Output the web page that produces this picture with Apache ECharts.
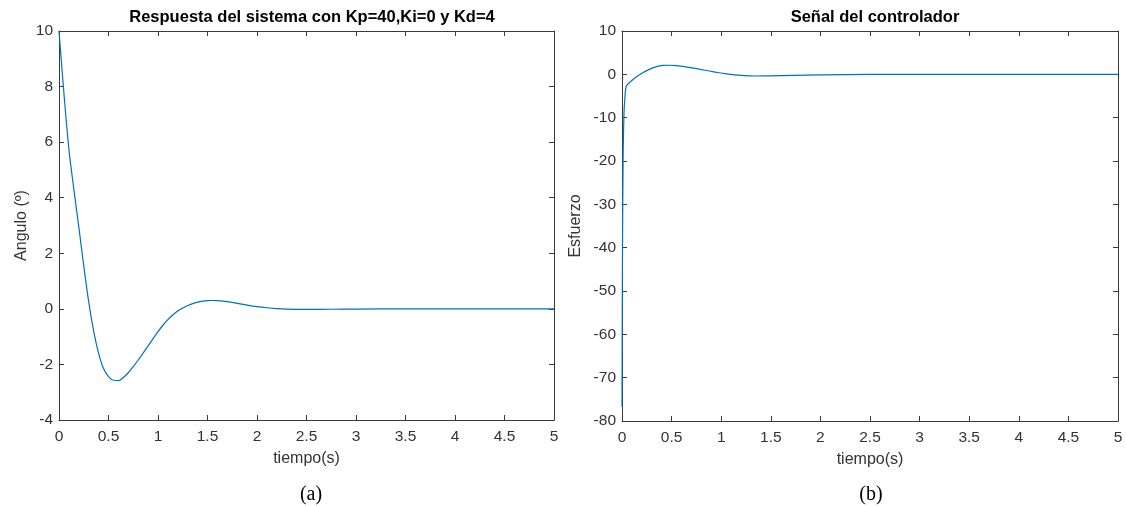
<!DOCTYPE html>
<html>
<head>
<meta charset="utf-8">
<script src="https://cdn.jsdelivr.net/npm/echarts@6/dist/echarts.min.js"></script>
<style>
  html, body { margin: 0; padding: 0; background: #fff; }
  #chart { width: 1126px; height: 506px; }
</style>
</head>
<body>
<div id="chart"></div>
<script>
// (a) respuesta del sistema
const timeA = [0, 0.05, 0.1, 0.15, 0.2, 0.25, 0.3, 0.35, 0.4, 0.45, 0.5, 0.55, 0.6, 0.65, 0.7, 0.75, 0.8, 0.85, 0.9, 0.95,
  1.0, 1.05, 1.1, 1.15, 1.2, 1.25, 1.3, 1.35, 1.4, 1.45, 1.5, 1.55, 1.6, 1.7, 1.8, 1.9, 2.0, 2.1, 2.2, 2.3, 2.5, 2.75, 3, 3.5, 4, 4.5, 5]
const angulo = [10, 7.75, 5.75, 4.3, 2.95, 1.55, 0.25, -0.8, -1.6, -2.15, -2.44, -2.57, -2.58, -2.47, -2.3, -2.08, -1.84, -1.59, -1.33, -1.07,
  -0.82, -0.59, -0.39, -0.22, -0.08, 0.03, 0.12, 0.19, 0.24, 0.275, 0.295, 0.3, 0.295, 0.26, 0.2, 0.135, 0.08, 0.04, 0.01, -0.01, -0.02, -0.015, -0.01, 0, 0, 0, 0]

// (b) senal del controlador
const timeB = [0, 0.005, 0.012, 0.02, 0.027, 0.044, 0.094, 0.15, 0.21, 0.31, 0.41, 0.48, 0.55, 0.63, 0.72, 0.8, 0.88, 0.96, 1.05, 1.2, 1.35, 1.5, 1.72, 2.0, 2.5, 3, 4, 5]
const esfuerzo = [-76.7, -40, -18, -9, -6.2, -2.7, -1.55, -0.5, 0.37, 1.5, 2.07, 2.1, 2.0, 1.78, 1.45, 1.1, 0.77, 0.42, 0.1, -0.25, -0.38, -0.35, -0.25, -0.12, -0.02, 0, 0, 0]

const lineColor = '#0072BD'
const axisColor = '#3a3a3a'
const font = 'Liberation Sans'

function pairs(xs, ys) {
  return xs.map((x, i) => [x, ys[i]])
}

function xAxisFor(grid, pos, show) {
  return {
    type: 'value', gridIndex: grid, position: pos,
    min: 0, max: 5, interval: 0.5,
    name: show ? 'tiempo(s)' : '',
    nameLocation: 'middle', nameGap: 31,
    nameTextStyle: { color: '#333', fontSize: 16, fontFamily: font },
    axisLine: { show: true, onZero: false, lineStyle: { color: axisColor, width: 1 } },
    axisTick: { show: true, inside: true, length: 5, lineStyle: { color: axisColor } },
    axisLabel: { show: show, color: '#333', fontSize: 15.5, fontFamily: font, margin: 9 },
    splitLine: { show: false }
  }
}

function yAxisFor(grid, pos, show, min, max, interval, name, gap) {
  return {
    type: 'value', gridIndex: grid, position: pos,
    min: min, max: max, interval: interval,
    name: show ? name : '',
    nameLocation: 'middle', nameGap: gap,
    nameTextStyle: { color: '#333', fontSize: 16, fontFamily: font },
    axisLine: { show: true, onZero: false, lineStyle: { color: axisColor, width: 1 } },
    axisTick: { show: true, inside: true, length: 5, lineStyle: { color: axisColor } },
    axisLabel: { show: show, color: '#333', fontSize: 15.5, fontFamily: font, margin: 6 },
    splitLine: { show: false }
  }
}

const option = {
  backgroundColor: '#fff',
  animation: false,
  title: [
    { text: 'Respuesta del sistema con Kp=40,Ki=0 y Kd=4', left: 307, top: 4, textAlign: 'center',
      textStyle: { fontSize: 16.5, fontWeight: 'bold', color: '#000', fontFamily: font } },
    { text: 'Señal del controlador', left: 870, top: 4, textAlign: 'center',
      textStyle: { fontSize: 16.5, fontWeight: 'bold', color: '#000', fontFamily: font } },
    { text: '(a)', left: 306, top: 480, textAlign: 'center',
      textStyle: { fontSize: 20, fontWeight: 'normal', color: '#000', fontFamily: 'Liberation Serif' } },
    { text: '(b)', left: 866, top: 480, textAlign: 'center',
      textStyle: { fontSize: 20, fontWeight: 'normal', color: '#000', fontFamily: 'Liberation Serif' } }
  ],
  grid: [
    { left: 59, top: 31, width: 495, height: 389 },
    { left: 622, top: 31, width: 496, height: 390 }
  ],
  xAxis: [
    xAxisFor(0, 'bottom', true),
    xAxisFor(0, 'top', false),
    xAxisFor(1, 'bottom', true),
    xAxisFor(1, 'top', false)
  ],
  yAxis: [
    yAxisFor(0, 'left', true, -4, 10, 2, 'Angulo (º)', 29),
    yAxisFor(0, 'right', false, -4, 10, 2, '', 0),
    yAxisFor(1, 'left', true, -80, 10, 10, 'Esfuerzo', 38),
    yAxisFor(1, 'right', false, -80, 10, 10, '', 0)
  ],
  series: [
    {
      type: 'line', xAxisIndex: 0, yAxisIndex: 0,
      data: pairs(timeA, angulo),
      smooth: 0.3, showSymbol: false,
      lineStyle: { color: lineColor, width: 1.2 }
    },
    {
      type: 'line', xAxisIndex: 2, yAxisIndex: 2,
      data: pairs(timeB, esfuerzo),
      smooth: 0.3, showSymbol: false,
      lineStyle: { color: lineColor, width: 1.2 }
    }
  ]
}

const myChart = echarts.init(document.getElementById('chart'), null, { renderer: 'canvas' })
myChart.setOption(option)
</script>
</body>
</html>
